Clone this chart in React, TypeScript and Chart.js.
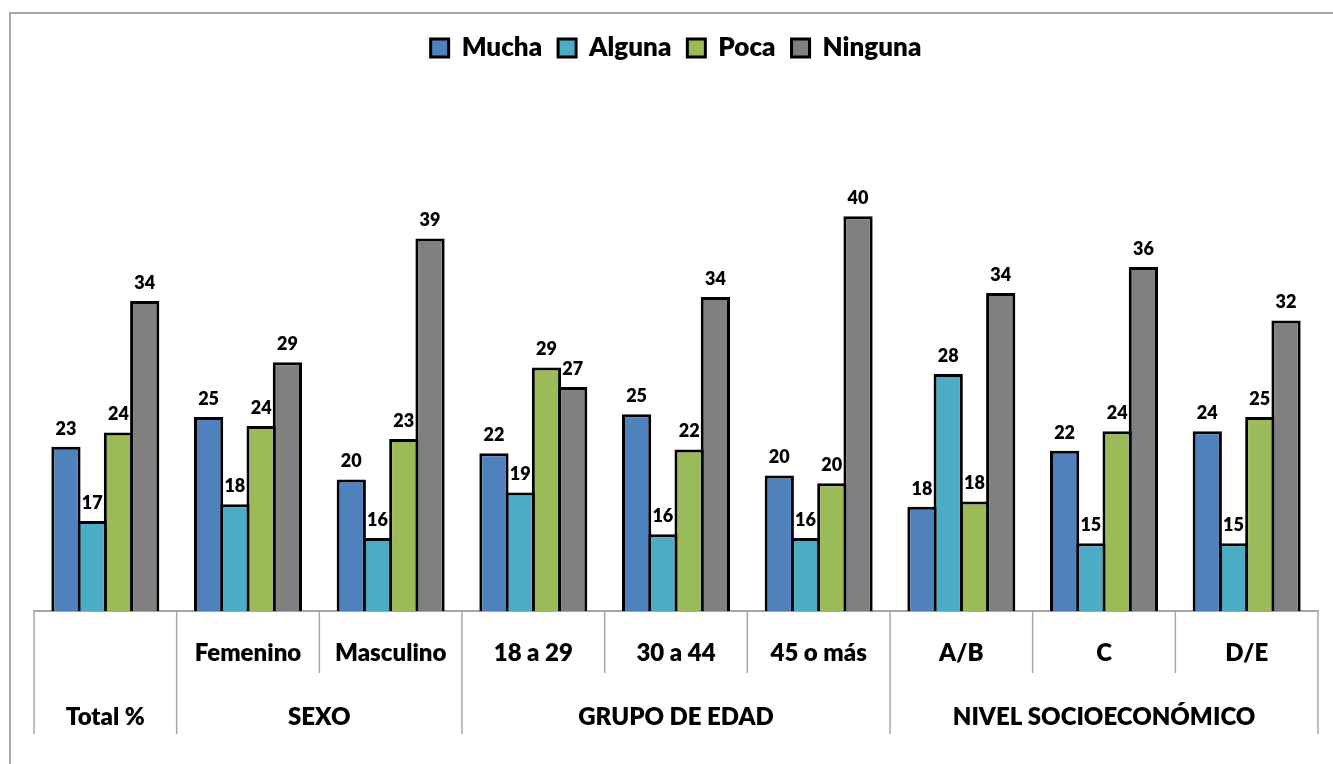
import React, { useEffect, useRef } from 'react';
import { Chart, registerables } from 'chart.js';

Chart.register(...registerables);

const categories = ['', 'Femenino', 'Masculino', '18 a 29', '30 a 44', '45 o más', 'A/B', 'C', 'D/E'];
const groupLabels = ['Total %', 'SEXO', 'GRUPO DE EDAD', 'NIVEL SOCIOECONÓMICO'];
const groupSizes = [1, 2, 3, 3];
const seriesNames = ['Mucha', 'Alguna', 'Poca', 'Ninguna'];
const mucha = [22.6, 24.9, 20.1, 22.1, 25.1, 20.4, 18.0, 22.3, 23.8];
const alguna = [16.9, 18.2, 15.6, 19.1, 15.9, 15.6, 28.2, 15.2, 15.2];
const poca = [23.7, 24.2, 23.2, 28.7, 22.4, 19.8, 18.4, 23.8, 24.9];
const ninguna = [33.8, 29.1, 38.6, 27.2, 34.1, 40.3, 34.4, 36.4, 32.3];
const seriesColors = ['#4F81BD', '#4BACC6', '#9BBB59', '#808080'];

const FONT = 'Lato, "Open Sans", sans-serif';
const WEIGHT = '800';
const LINE = '#A6A6A6';

const multiAxisPlugin = {
  id: 'multiAxis',
  afterDraw(chart: any) {
    const xs = chart.scales.x;
    const ctx = chart.ctx as CanvasRenderingContext2D;
    const n = categories.length;
    const step = xs.getPixelForValue(1) - xs.getPixelForValue(0);
    const edge = (i: number) => xs.getPixelForValue(0) - step / 2 + i * step;
    const top = chart.chartArea.bottom;
    const groupEdges = new Set<number>([0]);
    let c = 0;
    groupSizes.forEach((s) => {
      c += s;
      groupEdges.add(c);
    });
    ctx.save();
    ctx.strokeStyle = LINE;
    ctx.lineWidth = 1.5;
    for (let i = 0; i <= n; i++) {
      const x = edge(i);
      const len = groupEdges.has(i) ? 123 : 62;
      ctx.beginPath();
      ctx.moveTo(x, top);
      ctx.lineTo(x, top + len);
      ctx.stroke();
    }
    ctx.font = `${WEIGHT} 24px ${FONT}`;
    ctx.fillStyle = '#000';
    ctx.textAlign = 'center';
    ctx.textBaseline = 'middle';
    let start = 0;
    groupSizes.forEach((s, g) => {
      const cx = (edge(start) + edge(start + s)) / 2;
      ctx.fillText(groupLabels[g], cx, top + 106);
      start += s;
    });
    ctx.restore();
  },
};

const dataLabelPlugin = {
  id: 'dataLabels',
  afterDatasetsDraw(chart: any) {
    const ctx = chart.ctx as CanvasRenderingContext2D;
    ctx.save();
    ctx.font = `${WEIGHT} 18px ${FONT}`;
    ctx.fillStyle = '#000';
    ctx.textAlign = 'center';
    ctx.textBaseline = 'middle';
    chart.data.datasets.forEach((ds: any, di: number) => {
      const meta = chart.getDatasetMeta(di);
      meta.data.forEach((el: any, i: number) => {
        ctx.fillText(String(Math.round(ds.data[i])), el.x, el.y - 18);
      });
    });
    ctx.restore();
  },
};

export default function App() {
  const ref = useRef<HTMLCanvasElement>(null);
  useEffect(() => {
    const values = [mucha, alguna, poca, ninguna];
    const chart = new Chart(ref.current as HTMLCanvasElement, {
      type: 'bar',
      data: {
        labels: categories,
        datasets: seriesNames.map((name, i) => ({
          label: name,
          data: values[i],
          backgroundColor: seriesColors[i],
          borderColor: '#000',
          borderWidth: 3,
          categoryPercentage: 0.736,
          barPercentage: 1.114,
        })),
      },
      options: {
        animation: false,
        responsive: false,
        layout: { padding: { top: 19, left: 34, right: 15, bottom: 0 } },
        plugins: {
          legend: {
            position: 'top',
            labels: {
              boxWidth: 18,
              boxHeight: 18,
              padding: 16,
              color: '#000',
              font: { family: FONT, size: 26, weight: WEIGHT },
            },
          },
          tooltip: { enabled: false },
        },
        scales: {
          x: {
            grid: { display: false, drawTicks: false },
            border: { display: true, color: LINE, width: 2 },
            ticks: {
              color: '#000',
              font: { family: FONT, size: 24, weight: WEIGHT },
              padding: 28,
              autoSkip: false,
              maxRotation: 0,
              minRotation: 0,
            },
            afterFit: (s: any) => {
              s.height = 153;
            },
          },
          y: { display: false, min: 10, max: 51.45 },
        },
      },
      plugins: [multiAxisPlugin, dataLabelPlugin],
    } as any);
    return () => chart.destroy();
  }, []);
  return (
    <div style={{ position: 'fixed', left: 0, top: 0, width: 1333, height: 764, background: '#fff', overflow: 'hidden' }}>
      <div
        style={{
          position: 'absolute',
          left: 9,
          top: 12,
          width: 1400,
          height: 800,
          borderLeft: `2px solid ${LINE}`,
          borderTop: `2px solid ${LINE}`,
        }}
      />
      <canvas ref={ref} width={1333} height={764} style={{ position: 'absolute', left: 0, top: 0, width: 1333, height: 764 }} />
    </div>
  );
}
